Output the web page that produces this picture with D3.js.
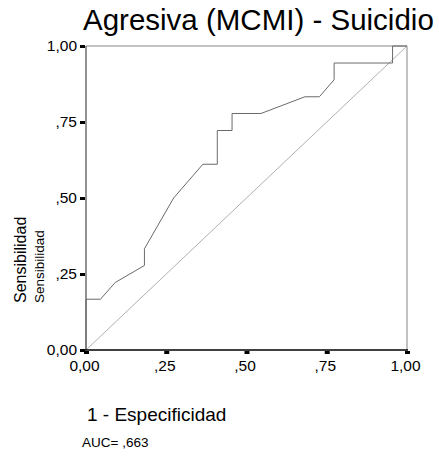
<!DOCTYPE html>
<html>
<head>
<meta charset="utf-8">
<script src="https://cdn.jsdelivr.net/npm/d3@7"></script>
<style>
    body { margin: 0; background: #fff; }
    text { font-family: 'Liberation Sans', Arial, sans-serif; fill: #000; }
</style>
</head>
<body>
<div id="chart"></div>
<script>
// ROC curve points (1 - specificity, sensitivity)
var fpr = [0, 0, 0.045, 0.091, 0.182, 0.182, 0.273, 0.364, 0.409, 0.409, 0.455, 0.455, 0.545, 0.682, 0.727, 0.773, 0.773, 0.955, 0.955, 1];
var tpr = [0, 0.167, 0.167, 0.222, 0.278, 0.333, 0.5, 0.611, 0.611, 0.722, 0.722, 0.778, 0.778, 0.833, 0.833, 0.889, 0.944, 0.944, 1, 1];
var tickValues = [0, 0.25, 0.5, 0.75, 1];
var tickLabels = ['0,00', ',25', ',50', ',75', '1,00'];
var title = 'Agresiva (MCMI) - Suicidio';
var auc = 'AUC= ,663';

var svg = d3.select('#chart')
    .append('svg')
    .attr('width', 439)
    .attr('height', 466);

const pLeft = 86, pTop = 46, pRight = 407, pBottom = 350;
const font = "'Liberation Sans', Arial, sans-serif";

var x = d3.scaleLinear().domain([0, 1]).range([pLeft, pRight]);
var y = d3.scaleLinear().domain([0, 1]).range([pBottom, pTop]);

svg.append('text')
    .attr('x', 83)
    .attr('y', 30)
    .attr('font-size', '29.5px')
    .text(title);

// frame
svg.append('line')
    .attr('x1', pLeft).attr('x2', pRight)
    .attr('y1', pTop).attr('y2', pTop)
    .attr('stroke', '#888').attr('stroke-width', 1.2);
svg.append('line')
    .attr('x1', pRight).attr('x2', pRight)
    .attr('y1', pTop).attr('y2', pBottom)
    .attr('stroke', '#999').attr('stroke-width', 1.2);
svg.append('line')
    .attr('x1', pLeft).attr('x2', pLeft)
    .attr('y1', pTop).attr('y2', pBottom)
    .attr('stroke', '#777').attr('stroke-width', 1.6);

// reference diagonal
svg.append('line')
    .attr('x1', x(0)).attr('y1', y(0))
    .attr('x2', x(1)).attr('y2', y(1))
    .attr('stroke', '#b0b0b0').attr('stroke-width', 1);

// ROC curve
var line = d3.line()
    .x((d, i) => x(fpr[i]))
    .y((d, i) => y(tpr[i]));

svg.append('path')
    .datum(fpr)
    .attr('d', line)
    .attr('fill', 'none')
    .attr('stroke', '#6a6a6a')
    .attr('stroke-width', 1);

// axes
var yAxis = d3.axisLeft(y)
    .tickValues(tickValues)
    .tickFormat((d, i) => tickLabels[i])
    .tickSize(5)
    .tickPadding(3);

var gy = svg.append('g')
    .attr('transform', 'translate(' + (pLeft - 1) + ',0)')
    .call(yAxis);
gy.select('.domain').remove();
gy.selectAll('.tick line').attr('stroke', '#000').attr('stroke-width', 3);
gy.selectAll('.tick text').attr('font-size', '15.5px').attr('font-family', font);

var xAxis = d3.axisBottom(x)
    .tickValues(tickValues)
    .tickFormat((d, i) => tickLabels[i])
    .tickSize(3)
    .tickPadding(6);

var gx = svg.append('g')
    .attr('transform', 'translate(0,' + (pBottom + 1) + ')')
    .call(xAxis);
gx.select('.domain').remove();
gx.selectAll('.tick line').attr('stroke', '#000').attr('stroke-width', 5);
gx.selectAll('.tick text')
    .attr('font-size', '15.5px')
    .attr('font-family', font)
    .attr('dx', -2);

svg.append('line')
    .attr('x1', pLeft - 1).attr('x2', pRight + 1)
    .attr('y1', pBottom).attr('y2', pBottom)
    .attr('stroke', '#000').attr('stroke-width', 1.5);

// axis titles
svg.append('text')
    .attr('transform', 'translate(26,303) rotate(-90)')
    .attr('font-size', '16px')
    .text('Sensibilidad');

svg.append('text')
    .attr('transform', 'translate(44,303) rotate(-90)')
    .attr('font-size', '13.5px')
    .text('Sensibilidad');

svg.append('text')
    .attr('x', 87)
    .attr('y', 421)
    .attr('font-size', '19px')
    .text('1 - Especificidad');

svg.append('text')
    .attr('x', 82)
    .attr('y', 447)
    .attr('font-size', '13.5px')
    .text(auc);
</script>
</body>
</html>
